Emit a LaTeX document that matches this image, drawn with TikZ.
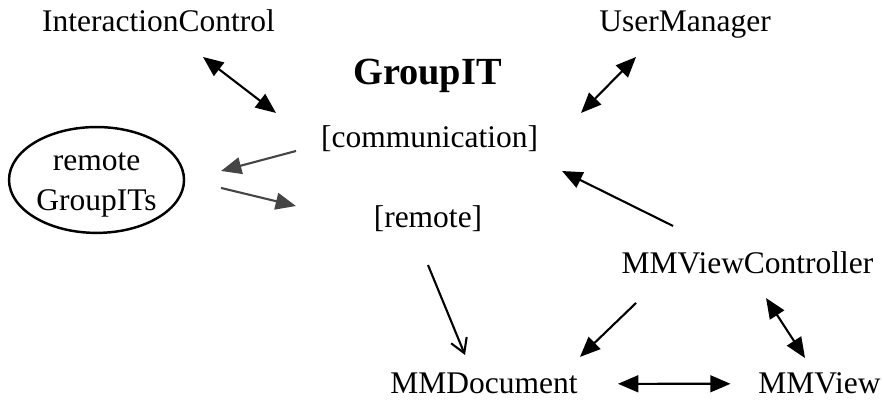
\documentclass[tikz,border=0pt]{standalone}
\usepackage{fontspec}
\setmainfont{Liberation Serif}
\usetikzlibrary{arrows.meta,shapes.geometric}
\tikzset{
	lbl/.style={inner sep=0pt, anchor=base, font=\fontsize{12.8}{15.9}\selectfont},
	onearrow/.style={line width=0.3mm, -{Triangle[length=0.29cm,width=0.24cm]}},
	twoarrow/.style={line width=0.3mm, {Triangle[length=0.29cm,width=0.24cm]}-{Triangle[length=0.29cm,width=0.24cm]}},
	grayarrow/.style={onearrow, color=black!73},
	openarrow/.style={line width=0.3mm, -{Straight Barb[length=0.2cm,width=0.24cm]}}
}

\begin{document}
\begin{tikzpicture}
		%%%%% START %%%%%
		\useasboundingbox (0, 0) rectangle (12.614, 5.757);
		
		\node[lbl] (ic) at (2.264, 5.3) {InteractionControl};
		\node[lbl] (um) at (9.786, 5.3) {UserManager};
		\node[lbl, font=\fontsize{15.6}{18}\selectfont\bfseries] (grp) at (6.107, 4.543) {GroupIT};
		\node[lbl] (comm) at (6.136, 3.657) {[communication]};
		\node[lbl] (rem) at (6.114, 2.514) {[remote]};
		\node[draw, ellipse, line width=0.35mm, minimum width=2.5cm, minimum height=1.343cm, inner sep=0pt, align=center, font=\fontsize{12.8}{16.3}\selectfont] (rg) at (1.379, 3.186) {\rule{0pt}{11.4pt}remote\\GroupITs};
		\node[lbl] (mvc) at (10.679, 1.843) {MMViewController};
		\node[lbl] (doc) at (6.914, 0.129) {MMDocument};
		\node[lbl] (view) at (11.707, 0.129) {MMView};
		
		\draw[twoarrow] ([shift={(0.636,-0.357)}]ic.base) -- ([shift={(-2.193,0.486)}]comm.base);
		\draw[twoarrow] ([shift={(-0.7,-0.357)}]um.base) -- ([shift={(2.164,0.486)}]comm.base);
		
		\draw[grayarrow] ([shift={(-1.907,-0.057)}]comm.base) -- ([shift={(1.779,0.129)}]rg.center);
		\draw[grayarrow] ([shift={(1.779,-0.114)}]rg.center) -- ([shift={(-1.886,0.3)}]rem.base);
		
		\draw[openarrow] ([shift={(0,-0.543)}]rem.base) -- ([shift={(-0.271,0.557)}]doc.base);
		\draw[onearrow] ([shift={(-1.064,0.686)}]mvc.base) -- ([shift={(1.893,-0.343)}]comm.base);
		\draw[onearrow] ([shift={(-1.593,-0.414)}]mvc.base) -- ([shift={(1.371,0.529)}]doc.base);
		\draw[twoarrow] ([shift={(0.264,-0.343)}]mvc.base) -- ([shift={(-0.207,0.514)}]view.base);
		\draw[twoarrow, shorten <=0.57cm, shorten >=0.39cm] (doc.east) -- (view.west);
		
		%%%%% END %%%%%
\end{tikzpicture}
\end{document}
